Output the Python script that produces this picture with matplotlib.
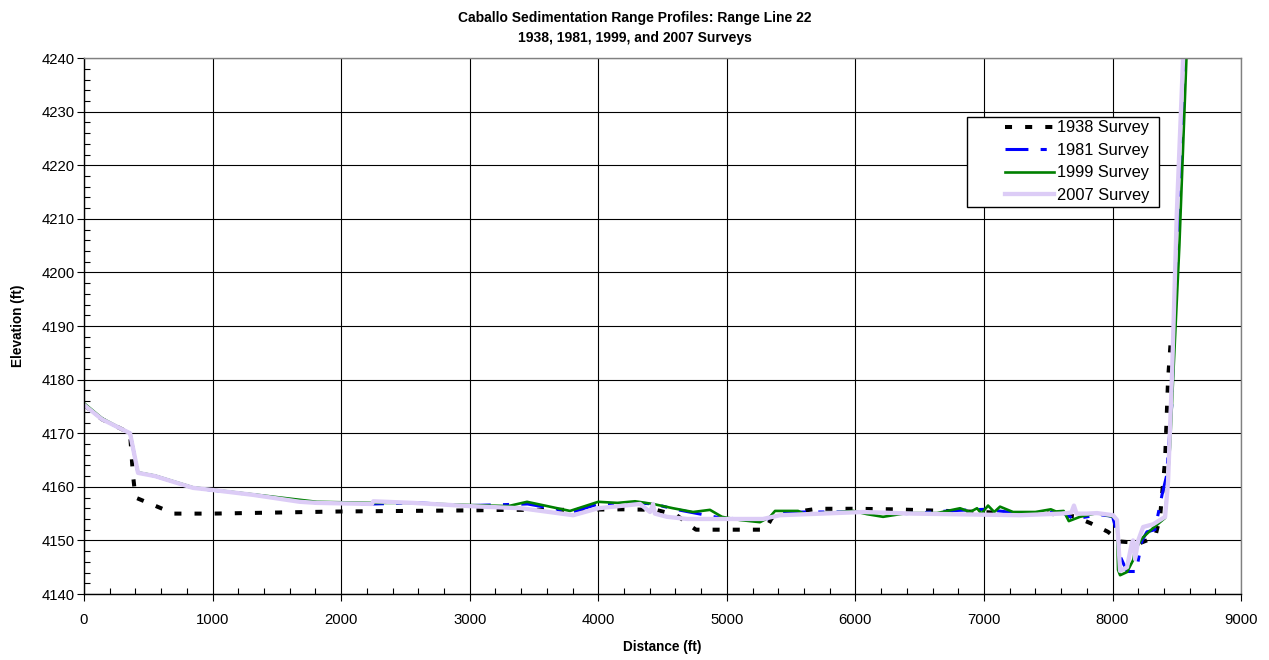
import matplotlib.pyplot as plt
from matplotlib.patches import Rectangle
from matplotlib.ticker import MultipleLocator, AutoMinorLocator

plt.rcParams['font.family'] = ['Liberation Sans', 'DejaVu Sans']

# survey profiles, distance (ft) vs elevation (ft)
x_1938 = [0, 140, 358, 380, 400, 550, 700, 1000, 1500, 2000, 2500, 3000, 3300, 3700,
          4200, 4450, 4610, 4730, 4760, 5000, 5300, 5350, 5450, 5700, 6000, 6300, 6700,
          7000, 7200, 7500, 7700, 7830, 7965, 8058, 8214, 8331, 8370, 8409, 8432, 8455]
y_1938 = [4175.3, 4172.6, 4170, 4162.5, 4158, 4156.5, 4155, 4155, 4155.2, 4155.4, 4155.5,
          4155.6, 4155.7, 4155.7, 4155.8, 4155.7, 4154.7, 4152.5, 4152, 4152, 4152, 4154.2,
          4155, 4155.9, 4155.9, 4155.8, 4155.5, 4155.3, 4155, 4155, 4154.5, 4153.2, 4151.6,
          4149.8, 4149.5, 4150.6, 4154.4, 4165, 4180, 4188]

x_1981 = [0, 140, 358, 420, 552, 848, 1314, 1812, 2250, 2600, 3000, 3450, 3800, 4000,
          4300, 4430, 4600, 4950, 5300, 5400, 5600, 6000, 6400, 6800, 7000, 7300, 7600,
          7700, 7900, 8000, 8040, 8060, 8113, 8190, 8198, 8230, 8268, 8330, 8385, 8420,
          8460, 8500, 8560]
y_1981 = [4175.3, 4172.6, 4170, 4162.6, 4162, 4159.8, 4158.5, 4157, 4156.8, 4157, 4156.5,
          4156.8, 4155.3, 4156.8, 4157, 4156.8, 4155.8, 4154.2, 4153.8, 4155.2, 4155.3,
          4155.3, 4155, 4155.6, 4155.8, 4155, 4155.3, 4154, 4154.8, 4154.5, 4151, 4147,
          4144.2, 4144.2, 4146, 4150, 4151.6, 4152, 4158.5, 4162, 4175, 4205, 4240]

x_1999 = [0, 140, 358, 420, 552, 848, 1314, 1812, 2250, 2500, 3000, 3300, 3446, 3780,
          4000, 4150, 4286, 4426, 4582, 4737, 4869, 4962, 5103, 5258, 5336, 5375, 5554,
          5608, 5880, 5982, 6090, 6215, 6401, 6635, 6814, 6892, 6946, 6980, 7032, 7080,
          7125, 7226, 7400, 7520, 7560, 7620, 7660, 7747, 7879, 8004, 8035, 8043, 8059,
          8113, 8160, 8175, 8230, 8315, 8409, 8447, 8471, 8520, 8575]
y_1999 = [4175.6, 4172.8, 4170, 4162.7, 4162.1, 4159.9, 4158.6, 4157.2, 4157, 4157,
          4156.6, 4156.4, 4157.2, 4155.5, 4157.2, 4157, 4157.3, 4156.8, 4156, 4155.3,
          4155.7, 4154.4, 4153.8, 4153.4, 4154.4, 4155.5, 4155.5, 4154.9, 4155.3, 4155.5,
          4154.9, 4154.4, 4155.1, 4155.1, 4156, 4155.3, 4156, 4155, 4156.5, 4155.3, 4156.3,
          4155.3, 4155.3, 4155.8, 4155.4, 4155.5, 4153.6, 4154.4, 4155.1, 4154.4, 4153.8,
          4144.5, 4143.5, 4144.1, 4146.3, 4148.2, 4150.4, 4152.3, 4154.2, 4167.4, 4180,
          4205, 4240]

x_2007 = [0, 140, 358, 420, 552, 848, 1003, 1314, 1680, 1812, 2240, 2250, 2560, 3000,
          3400, 3805, 4000, 4325, 4403, 4426, 4440, 4535, 4691, 4947, 5281, 5414, 6059,
          6448, 7281, 7600, 7680, 7700, 7720, 7800, 7879, 8004, 8035, 8059, 8113, 8150,
          8160, 8175, 8200, 8238, 8315, 8409, 8432, 8463, 8500, 8549]
y_2007 = [4175.3, 4172.6, 4170, 4162.6, 4162, 4159.8, 4159.4, 4158.5, 4157.2, 4157,
          4156.8, 4157.3, 4157, 4156.4, 4156, 4154.7, 4156, 4156.8, 4155.3, 4156.8, 4155,
          4154.4, 4154, 4154, 4154, 4154.7, 4155.3, 4155, 4154.7, 4155, 4155.2, 4156.5,
          4155, 4155, 4155.1, 4154.7, 4153.8, 4144.3, 4145, 4149.5, 4150, 4146.5, 4150,
          4152.5, 4153, 4154.4, 4161, 4181, 4211, 4240]

fig = plt.figure(figsize=(12.69, 6.6), dpi=100)
ax = fig.add_axes([0.0662, 0.1, 0.9118, 0.812])

ax.plot(x_1938, y_1938, color='black', lw=2.9, dashes=(1.75, 3.25), label='1938 Survey')
ax.plot(x_1981, y_1981, color='#0000FF', lw=2.2, dashes=(7.5, 4.0, 2.0, 4.0), label='1981 Survey')
ax.plot(x_1999, y_1999, color='#008000', lw=1.9, label='1999 Survey')
ax.plot(x_2007, y_2007, color='#DCCCF6', lw=3.1, label='2007 Survey')

ax.set_xlim(0, 9000)
ax.set_ylim(4140, 4240)
ax.xaxis.set_major_locator(MultipleLocator(1000))
ax.yaxis.set_major_locator(MultipleLocator(10))
ax.xaxis.set_minor_locator(AutoMinorLocator(5))
ax.yaxis.set_minor_locator(AutoMinorLocator(5))
ax.tick_params(which='major', direction='out', length=5, width=0.8, labelsize=10.7, color='black')
ax.tick_params(which='minor', direction='in', length=4, width=0.8, color='black')
ax.tick_params(axis='x', which='major', pad=9)
ax.tick_params(axis='y', which='major', pad=1.5)
ax.grid(which='major', color='black', lw=0.8)
ax.set_axisbelow(True)
for s in ax.spines.values():
    s.set_color('#808080')
    s.set_linewidth(1)
ax.spines['left'].set_color('black')
ax.spines['bottom'].set_color('black')

ax.set_xlabel('Distance (ft)', fontsize=9.8, fontweight='bold', labelpad=9)
ax.set_ylabel('Elevation (ft)', fontsize=9.8, fontweight='bold', labelpad=12)
fig.text(0.5, 0.973, 'Caballo Sedimentation Range Profiles: Range Line 22', ha='center', va='center',
         fontsize=10, fontweight='bold')
fig.text(0.5, 0.943, '1938, 1981, 1999, and 2007 Surveys', ha='center', va='center',
         fontsize=10, fontweight='bold')

# legend box with wide left margin, entries placed inside it
ax.add_patch(Rectangle((0.7632, 0.722), 0.1659, 0.1679, transform=ax.transAxes,
                       facecolor='white', edgecolor='black', lw=1, zorder=4))
leg = ax.legend(loc='upper left', bbox_to_anchor=(0.7945, 0.887), fontsize=11.8, frameon=False,
                handlelength=3.0, borderpad=0.1, labelspacing=0.46, handletextpad=0.2,
                borderaxespad=0)
leg.set_zorder(5)

fig.savefig('out.png', dpi=100)
